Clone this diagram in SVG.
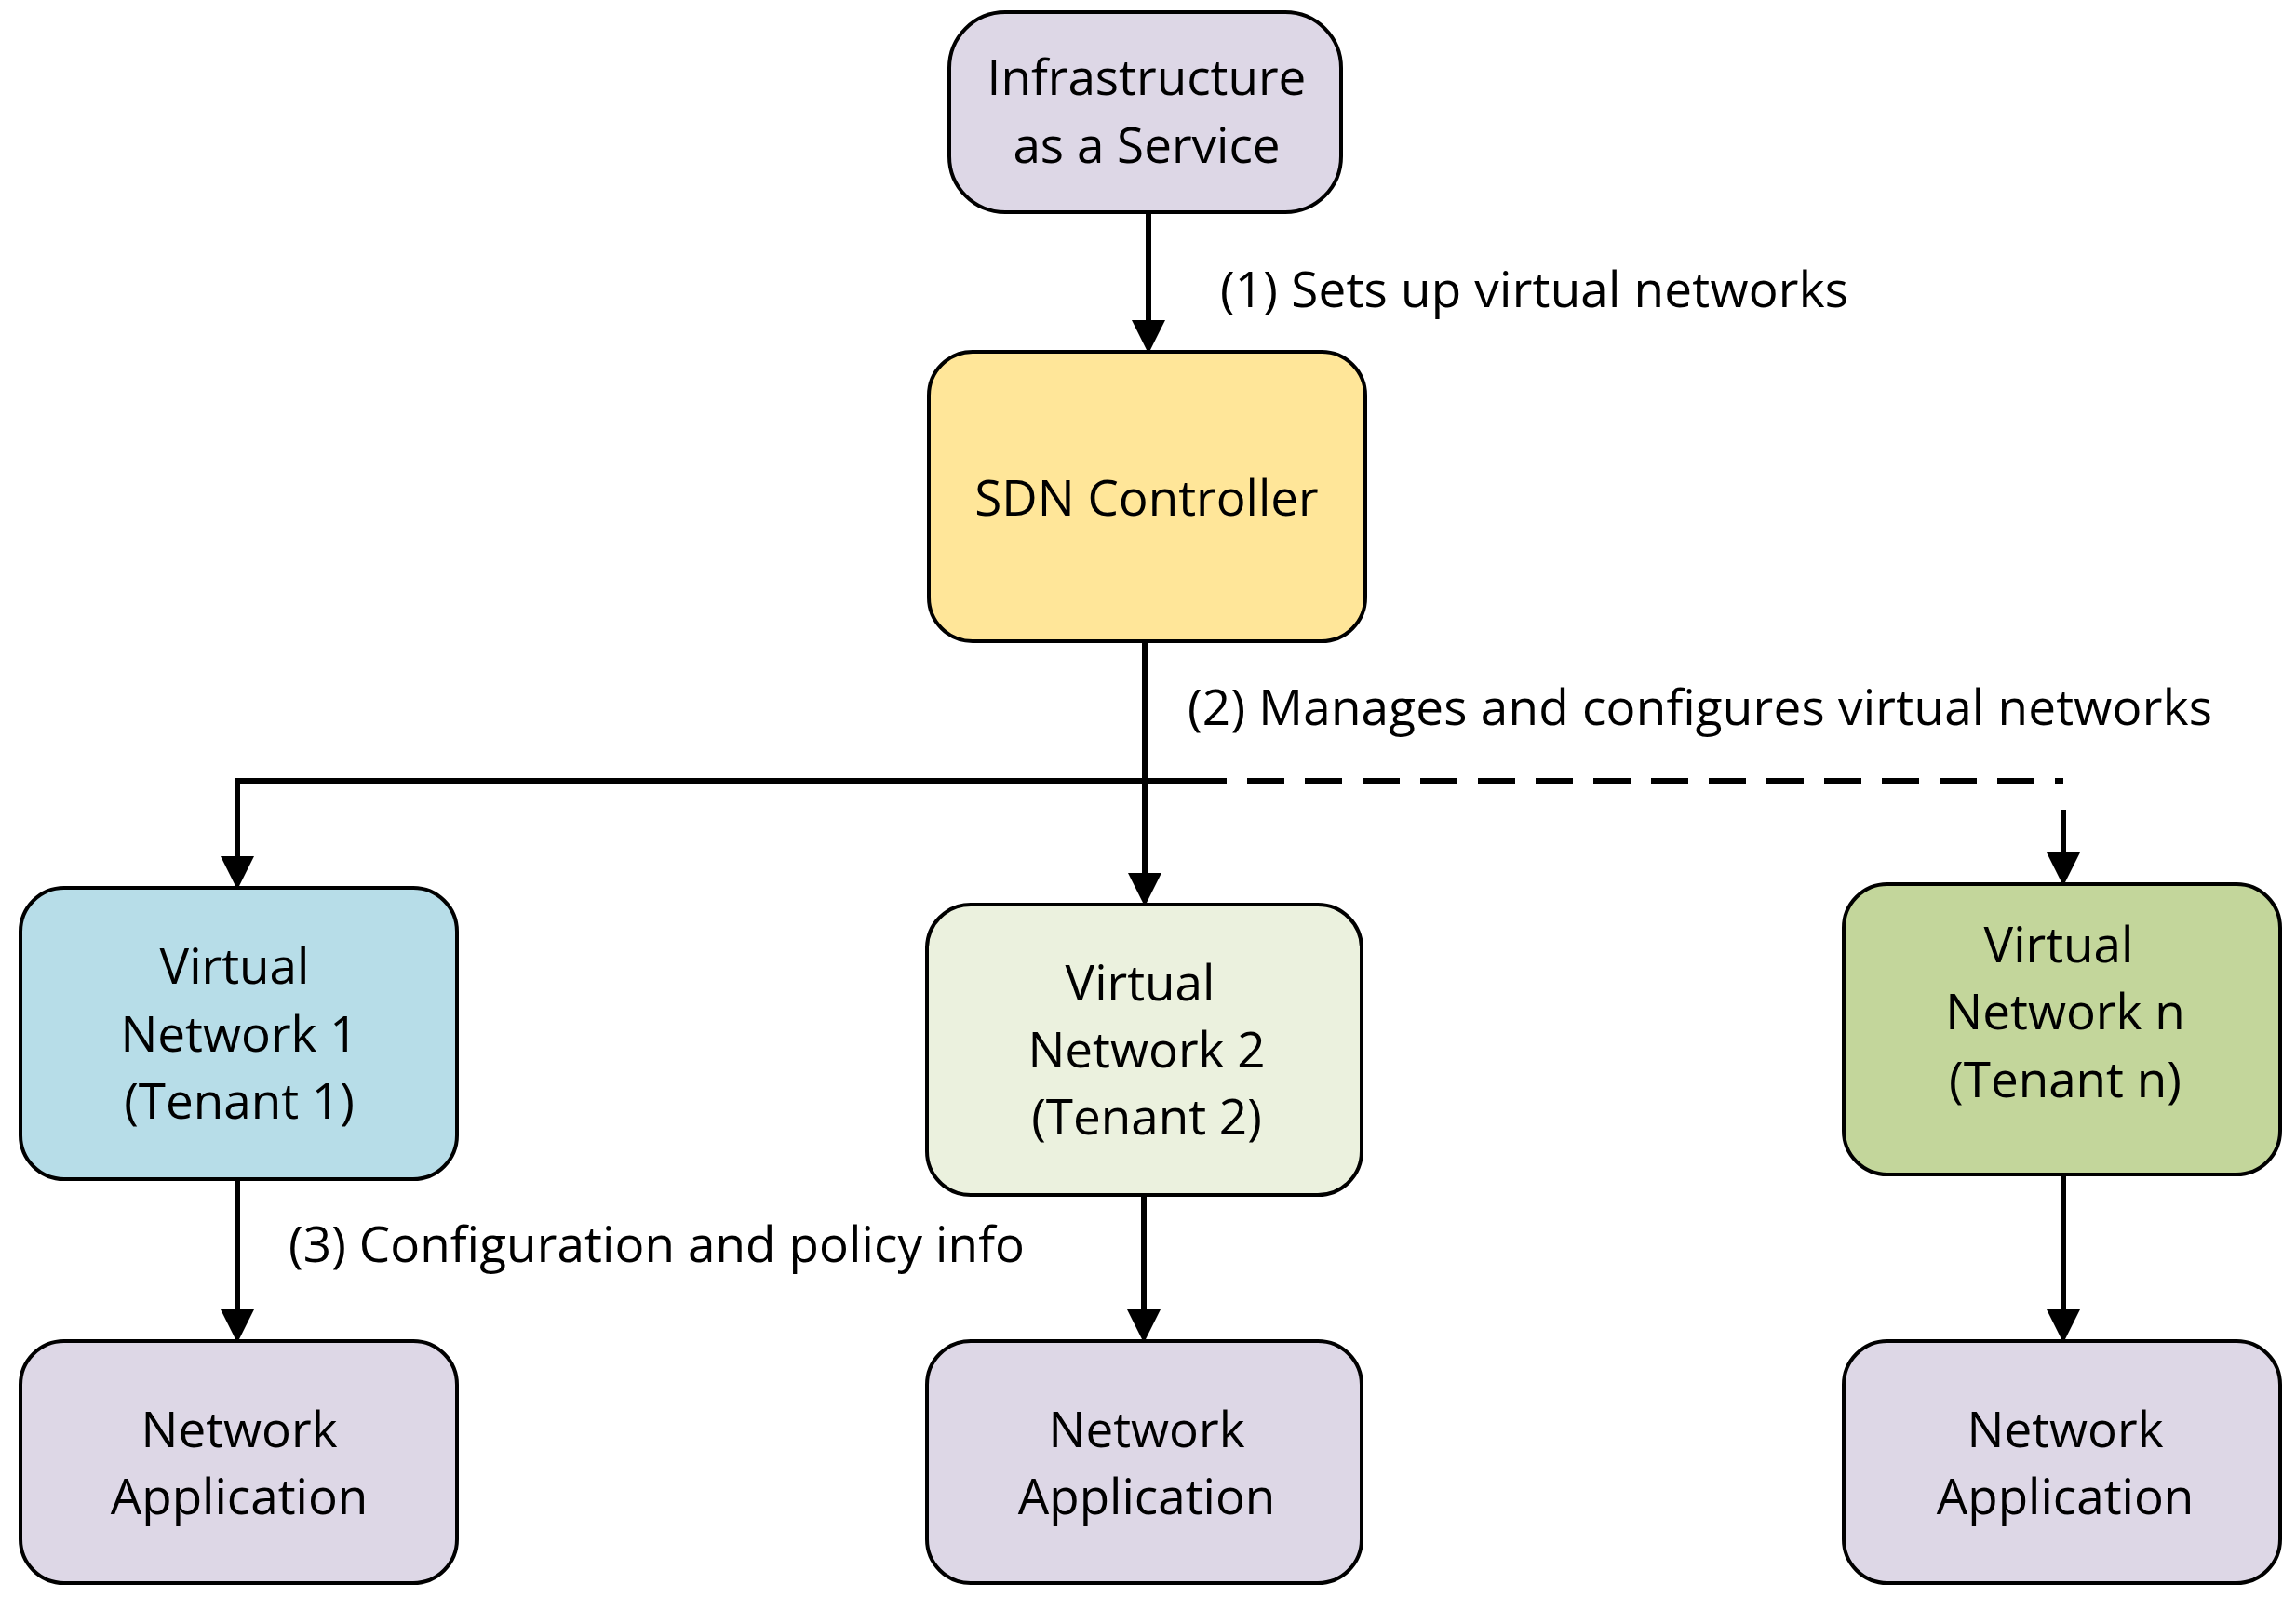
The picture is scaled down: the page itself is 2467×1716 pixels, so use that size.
<svg xmlns="http://www.w3.org/2000/svg" width="2467" height="1716" viewBox="0 0 2467 1716">
<style>
.n{stroke:#000;stroke-width:4}
.t{font-family:"Open Sans","Liberation Sans",sans-serif;font-size:53px;text-anchor:middle;fill:#000}
.l{font-family:"Open Sans","Liberation Sans",sans-serif;font-size:53px;fill:#000}
.c{stroke:#000;stroke-width:6;fill:none}
</style>
<defs><marker id="a" markerWidth="6" markerHeight="6" refX="5" refY="3" orient="auto" markerUnits="strokeWidth"><path d="M0,0L6,3L0,6z" fill="#000"/></marker></defs>
<rect width="2467" height="1716" fill="#fff"/>
<g id="connectors">
<line class="c" x1="1234" y1="228" x2="1234" y2="374" marker-end="url(#a)"/>
<line class="c" x1="1230" y1="689" x2="1230" y2="968" marker-end="url(#a)"/>
<polyline class="c" points="1278,839 255,839 255,950" marker-end="url(#a)"/>
<line class="c" x1="1278" y1="839" x2="2217" y2="839" stroke-dasharray="40,22"/>
<line class="c" x1="2217" y1="870" x2="2217" y2="946" marker-end="url(#a)"/>
<line class="c" x1="255" y1="1267" x2="255" y2="1437" marker-end="url(#a)"/>
<line class="c" x1="1229" y1="1284" x2="1229" y2="1437" marker-end="url(#a)"/>
<line class="c" x1="2217" y1="1262" x2="2217" y2="1437" marker-end="url(#a)"/>
<text class="l" x="1311" y="330" textLength="675">(1) Sets up virtual networks</text>
<text class="l" x="1276" y="779" textLength="1101">(2) Manages and configures virtual networks</text>
<text class="l" x="310" y="1356" textLength="791">(3) Configuration and policy info</text>
</g>
<g id="iaas"><rect class="n" x="1020" y="13" width="421" height="215" rx="60" fill="#DDD7E6"/><text class="t" x="1232" y="102">Infrastructure</text><text class="t" x="1232" y="175">as a Service</text></g>
<g id="sdn"><rect class="n" x="998" y="378" width="469" height="311" rx="47" fill="#FFE699"/><text class="t" x="1232" y="554">SDN Controller</text></g>
<g id="vn1"><rect class="n" x="22" y="954" width="469" height="313" rx="47" fill="#B7DDE8"/><text class="t" x="252" y="1057">Virtual</text><text class="t" x="257" y="1130">Network 1</text><text class="t" x="257" y="1202">(Tenant 1)</text></g>
<g id="vn2"><rect class="n" x="996" y="972" width="467" height="312" rx="47" fill="#EBF1DE"/><text class="t" x="1225" y="1075">Virtual</text><text class="t" x="1232" y="1147">Network 2</text><text class="t" x="1232" y="1219">(Tenant 2)</text></g>
<g id="vnn"><rect class="n" x="1981" y="950" width="469" height="312" rx="47" fill="#C3D69B"/><text class="t" x="2212" y="1034">Virtual</text><text class="t" x="2219" y="1106">Network n</text><text class="t" x="2219" y="1179">(Tenant n)</text></g>
<g id="na1"><rect class="n" x="22" y="1441" width="469" height="260" rx="47" fill="#DDD7E6"/><text class="t" x="257" y="1555">Network</text><text class="t" x="257" y="1627">Application</text></g>
<g id="na2"><rect class="n" x="996" y="1441" width="467" height="260" rx="47" fill="#DDD7E6"/><text class="t" x="1232" y="1555">Network</text><text class="t" x="1232" y="1627">Application</text></g>
<g id="nan"><rect class="n" x="1981" y="1441" width="469" height="260" rx="47" fill="#DDD7E6"/><text class="t" x="2219" y="1555">Network</text><text class="t" x="2219" y="1627">Application</text></g>
</svg>
